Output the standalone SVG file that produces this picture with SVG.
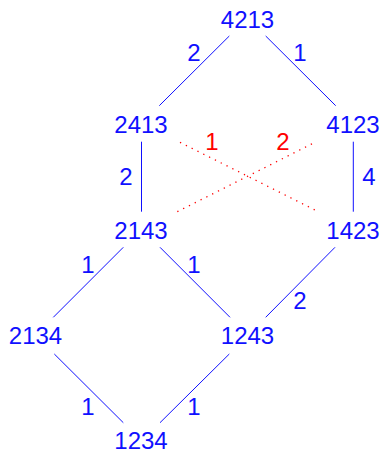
<svg xmlns="http://www.w3.org/2000/svg" width="381" height="452" viewBox="0 0 381 452">
<style>
text{font-family:"Liberation Sans",Arial,sans-serif;font-size:24px;text-anchor:middle}
.n text,.lb{fill:#1010ff}
.lr{fill:#ff0000}
.e{stroke:#1010ff;stroke-width:1;fill:none}
.d{stroke:#ff0000;stroke-width:1.3;fill:none;stroke-dasharray:1.3 5.2}
</style>
<rect width="381" height="452" fill="#fff"/>
<g id="connectors">
<line class="e" x1="229.3" y1="36" x2="159.3" y2="105.7"/>
<line class="e" x1="265.7" y1="36" x2="335.7" y2="105.7"/>
<line class="e" x1="141.5" y1="141.7" x2="141.5" y2="211.7"/>
<line class="e" x1="353.3" y1="141.7" x2="353.3" y2="211.7"/>
<line class="e" x1="123.3" y1="247.3" x2="53.3" y2="317.3"/>
<line class="e" x1="160" y1="247.3" x2="230" y2="317.3"/>
<line class="e" x1="335" y1="247.3" x2="265.7" y2="317.3"/>
<line class="e" x1="54.3" y1="354" x2="123.3" y2="422.7"/>
<line class="e" x1="229.3" y1="354" x2="160" y2="422.7"/>
<line class="d" x1="180" y1="142.3" x2="318.3" y2="211.7"/>
<line class="d" x1="177.3" y1="211.7" x2="315" y2="142.3"/>
<text class="lb" x="194" y="61">2</text>
<text class="lb" x="300" y="61">1</text>
<text class="lb" x="126" y="185">2</text>
<text class="lb" x="369" y="185">4</text>
<text class="lr" x="212" y="150">1</text>
<text class="lr" x="283" y="150">2</text>
<text class="lb" x="88" y="273">1</text>
<text class="lb" x="194" y="273">1</text>
<text class="lb" x="300" y="309">2</text>
<text class="lb" x="88" y="415">1</text>
<text class="lb" x="194" y="415">1</text>
</g>
<g id="n4213" class="n"><text x="247.5" y="28">4213</text></g>
<g id="n2413" class="n"><text x="141" y="133">2413</text></g>
<g id="n4123" class="n"><text x="353" y="133">4123</text></g>
<g id="n2143" class="n"><text x="141" y="239">2143</text></g>
<g id="n1423" class="n"><text x="353" y="239">1423</text></g>
<g id="n2134" class="n"><text x="35.5" y="344">2134</text></g>
<g id="n1243" class="n"><text x="247.5" y="344">1243</text></g>
<g id="n1234" class="n"><text x="141" y="448.5">1234</text></g>
</svg>
